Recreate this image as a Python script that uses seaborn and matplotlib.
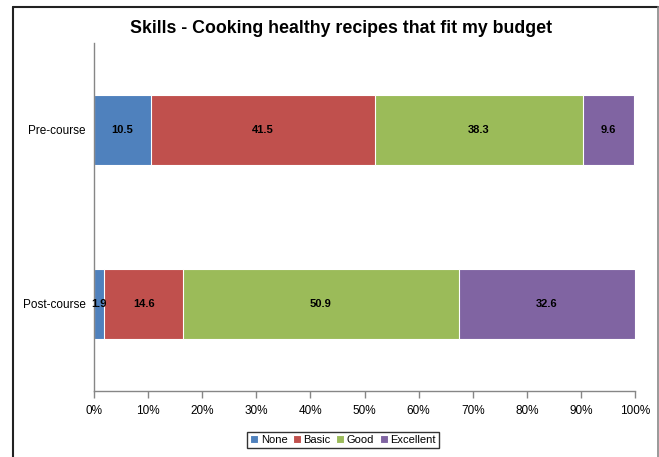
import matplotlib
matplotlib.use("Agg")
import matplotlib.pyplot as plt
from matplotlib.lines import Line2D
import numpy as np
import pandas as pd
import seaborn as sns

# Survey results (% of respondents)
stages = ["Pre-course", "Post-course"]
levels = ["None", "Basic", "Good", "Excellent"]
none_vals = [10.5, 1.9]
basic_vals = [41.5, 14.6]
good_vals = [38.3, 50.9]
excellent_vals = [9.6, 32.6]
colors = ["#4F81BD", "#C0504D", "#9BBB59", "#8064A2"]
x_ticks = [0, 10, 20, 30, 40, 50, 60, 70, 80, 90, 100]
x_tick_labels = [f"{t}%" for t in x_ticks]

sns.set_theme(style="white")
plt.rcParams["font.family"] = ["Liberation Sans", "DejaVu Sans"]
plt.rcParams["text.color"] = "black"
plt.rcParams["axes.labelcolor"] = "black"

values = np.array([none_vals, basic_vals, good_vals, excellent_vals])
cum = np.cumsum(values, axis=0)
left = cum - values

rows = []
for li, lvl in enumerate(levels):
    for si, st in enumerate(stages):
        rows.append({"stage": st, "level": lvl, "value": values[li, si],
                     "left": left[li, si], "cum": min(cum[li, si], 100.0)})
df = pd.DataFrame(rows)

fig = plt.figure(figsize=(6.59, 4.57), dpi=100)
ax = fig.add_axes([94 / 659, 1 - 391 / 457, (635 - 94) / 659, (391 - 43) / 457])

# stacked bars: draw cumulative totals from the last segment to the first
for lvl, col in reversed(list(zip(levels, colors))):
    sub = df[df["level"] == lvl]
    sns.barplot(data=sub, x="cum", y="stage", order=stages, color=col,
                width=0.405, edgecolor="white", linewidth=0.8, label=lvl,
                ax=ax, saturation=1)

for _, r in df.iterrows():
    yi = stages.index(r["stage"])
    ax.text(r["left"] + r["value"] / 2, yi, f"{r['value']:.1f}",
            ha="center", va="center", fontsize=8, fontweight="bold", color="black")

ax.set_xlim(0, 100)
ax.set_ylim(1.5, -0.5)
ax.set_xticks(x_ticks)
ax.set_xticklabels(x_tick_labels, fontsize=8.5)
ax.set_xlabel("")
ax.set_ylabel("")
ax.tick_params(axis="y", labelsize=8.5, length=0, pad=6, labelcolor="black")
ax.set_yticks([-0.5, 0.5, 1.5], minor=True)
ax.tick_params(axis="y", which="minor", length=3, color="#868686", width=1, direction="out")
ax.tick_params(axis="x", length=5, color="#868686", width=1, direction="out", pad=5,
               bottom=True, labelcolor="black")
for side in ["top", "right"]:
    ax.spines[side].set_visible(False)
for side in ["left", "bottom"]:
    ax.spines[side].set_color("#868686")
    ax.spines[side].set_linewidth(1)

ax.set_title("Skills - Cooking healthy recipes that fit my budget",
             fontsize=12.8, fontweight="bold", pad=0, color="black",
             x=(341 - 94) / (635 - 94), y=1 + (43 - 25 - 8) / (391 - 43))

handles, labels = ax.get_legend_handles_labels()
order = [labels.index(l) for l in levels]
leg = fig.legend([handles[i] for i in order], levels, loc="center",
                 bbox_to_anchor=(343 / 659, 1 - 440 / 457), ncol=4, fontsize=8,
                 frameon=True, fancybox=False, handlelength=0.7, handleheight=0.7,
                 handletextpad=0.25, columnspacing=0.5, borderpad=0.25,
                 borderaxespad=0)
leg.get_frame().set_edgecolor("black")
leg.get_frame().set_linewidth(1)
if ax.get_legend() is not None:
    ax.get_legend().remove()

# outer frame on the left, top and right edges
lc = "#222222"
fig.add_artist(Line2D([13 / 659, 13 / 659], [0, 1 - 7 / 457], color=lc, lw=1.5))
fig.add_artist(Line2D([13 / 659, 657.5 / 659], [1 - 7 / 457, 1 - 7 / 457], color=lc, lw=1.5))
fig.add_artist(Line2D([657.5 / 659, 657.5 / 659], [0, 1 - 7 / 457], color="#888888", lw=1.2))

fig.savefig("out.png", dpi=100)
